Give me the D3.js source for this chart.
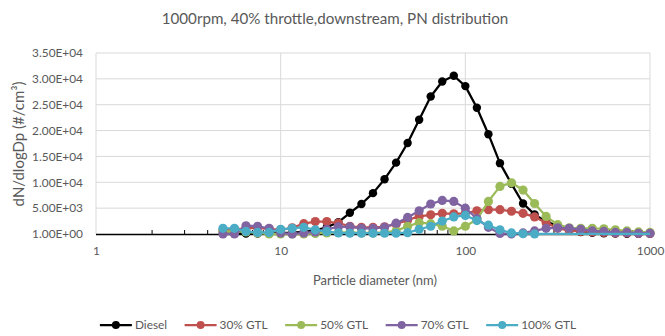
<!DOCTYPE html>
<html><head><meta charset="utf-8">
<script src="https://cdn.jsdelivr.net/npm/d3@7"></script>
<style>
body{margin:0;background:#fff}
svg{display:block}
text{font-family:Lato,"Open Sans",sans-serif;fill:#595959}
</style>
</head><body><svg id="c" width="665" height="336"></svg>
<script>
const titleText = "1000rpm, 40% throttle,downstream, PN distribution";
const xTitleText = "Particle diameter (nm)";
const yTitleText = "dN/dlogDp (#/cm³)";

const diameters = [4.87, 5.62, 6.49, 7.50, 8.66, 10.0, 11.55, 13.34, 15.40, 17.78, 20.54, 23.71, 27.38, 31.62, 36.52, 42.17, 48.70, 56.23, 64.94, 74.99, 86.60, 100.0, 115.48, 133.35, 153.99, 177.83, 205.35, 237.14, 273.84, 316.23, 365.17, 421.70, 486.97, 562.34, 649.38, 749.89, 865.96, 1000.0];

const seriesNames = ["Diesel", "30% GTL", "50% GTL", "70% GTL", "100% GTL"];
const seriesColors = ["#000000", "#C0504D", "#9BBB59", "#8064A2", "#4BACC6"];

const diesel = [50, 60, 70, 80, 100, 150, 250, 400, 700, 1300, 2300, 4100, 5800, 7900, 10600, 13800, 17600, 22100, 26600, 29500, 30600, 28600, 24400, 19300, 13700, 9700, 5900, 3800, 2400, 1600, 900, 400, 250, 150, 100, 60, 40, 30];
const gtl30 = [700, 900, 1100, 1200, 1000, 800, 1200, 2000, 2400, 2400, 2100, 1500, 1300, 1300, 1400, 1900, 2700, 3400, 3700, 4000, 3900, 4000, 4500, 4700, 4700, 4400, 4000, 3300, 2200, 1100, 700, 500, 400, 300, 200, 200, 100, 100];
const gtl50 = [500, 500, 400, 200, 0, 0, 0, 0, 100, 200, 300, 300, 200, 200, 300, 600, 1500, 2200, 2000, 1500, 600, 1500, 2800, 6300, 9200, 9900, 8500, 5900, 3400, 1800, 1200, 1100, 1100, 1000, 800, 600, 400, 300];
const gtl70 = [0, 0, 1600, 1500, 1100, 200, 0, 200, 400, 900, 1400, 1400, 1100, 1100, 1300, 2100, 3200, 4500, 5800, 6500, 6300, 5000, 3000, 1300, 100, 0, 200, 600, 1100, 1200, 1100, 900, 600, 500, 300, 300, 150, 150];
const gtl100 = [1100, 1100, 500, 300, 300, 900, 1100, 1300, 800, 450, 200, 150, 150, 150, 150, 150, 250, 900, 1500, 2500, 3300, 3600, 2600, 1700, 800, 200, 50, 20, null, null, null, null, null, null, null, null, null, null];
// the 100% GTL trace continues flat to 1000 nm without visible markers
const gtl100TailEnd = 20;

const yTickValues = [1, 5001, 10001, 15001, 20001, 25001, 30001, 35001];
const yTickLabels = ["1.00E+00", "5.00E+03", "1.00E+04", "1.50E+04", "2.00E+04", "2.50E+04", "3.00E+04", "3.50E+04"];
const xTickValues = [1, 10, 100, 1000];
const xTickLabels = ["1", "10", "100", "1000"];
const xMinorTicks = [2,3,4,5,6,7,8,9,20,30,40,50,60,70,80,90,200,300,400,500,600,700,800,900];

const allSeries = [diesel, gtl30, gtl50, gtl70, gtl100];

const svg = d3.select("#c");
const L = 96, R = 650, T = 53, B = 234;
const x = d3.scaleLog().domain([1, 1000]).range([L, R]);
const y = d3.scaleLinear().domain([1, 35001]).range([B, T]);

function fitWidth(sel, target) {
  const w = sel.node().getComputedTextLength();
  const fs = parseFloat(sel.style("font-size"));
  sel.style("font-size", (fs * target / w) + "px");
}

const probe = svg.append("text").style("font-size", "12px").text("3.50E+04");
fitWidth(probe, 51);
const tickFont = probe.style("font-size");
probe.remove();

// grid
const grid = svg.append("g");
grid.selectAll("line.h").data(yTickValues.slice(1)).join("line")
  .attr("x1", L).attr("x2", R).attr("y1", d => y(d)).attr("y2", d => y(d))
  .attr("stroke", "#d9d9d9").attr("stroke-width", 1);
grid.selectAll("line.v").data(xTickValues).join("line")
  .attr("x1", d => x(d)).attr("x2", d => x(d)).attr("y1", T).attr("y2", B)
  .attr("stroke", "#d9d9d9").attr("stroke-width", 1);

// x axis minor ticks + line
const xAxisMinor = svg.append("g").attr("transform", `translate(0,${B})`)
  .call(d3.axisBottom(x).tickValues(xMinorTicks).tickSize(-4).tickFormat(""));
xAxisMinor.select(".domain").attr("stroke", "#000").attr("stroke-width", 1.3).attr("d", `M${L},0.5H${R}`);
xAxisMinor.selectAll(".tick line").attr("stroke", "#000").attr("stroke-width", 1);

// x labels
const xAxisLab = svg.append("g").attr("transform", `translate(0,${B})`)
  .call(d3.axisBottom(x).tickValues(xTickValues).tickSize(0).tickPadding(13).tickFormat((d, i) => xTickLabels[i]));
xAxisLab.select(".domain").remove();
xAxisLab.selectAll("text").style("font-size", tickFont).style("font-family", "Lato,'Open Sans',sans-serif").attr("fill", "#595959");

// y labels
const yAxis = svg.append("g").attr("transform", `translate(${L},0)`)
  .call(d3.axisLeft(y).tickValues(yTickValues).tickSize(0).tickPadding(13).tickFormat((d, i) => yTickLabels[i]));
yAxis.select(".domain").remove();
yAxis.selectAll("text").style("font-size", tickFont).style("font-family", "Lato,'Open Sans',sans-serif").attr("fill", "#595959");

// series
const line = d3.line().x(d => x(d.d)).y(d => y(d.v));
allSeries.forEach((vals, si) => {
  const pts = diameters.map((d, i) => ({d, v: vals[i]})).filter(p => p.v != null);
  const linePts = si === 4 ? pts.concat([{d: diameters[diameters.length - 1], v: gtl100TailEnd}]) : pts;
  const g = svg.append("g");
  g.append("path").datum(linePts).attr("d", line).attr("fill", "none")
    .attr("stroke", seriesColors[si]).attr("stroke-width", 2.25).attr("stroke-linejoin", "round");
  g.selectAll("circle").data(pts).join("circle")
    .attr("cx", p => x(p.d)).attr("cy", p => y(p.v))
    .attr("r", si === 0 ? 4.2 : 4.6).attr("fill", seriesColors[si]);
});

// title
const title = svg.append("text").attr("x", 335).attr("y", 24).attr("text-anchor", "middle")
  .style("font-size", "14px").text(titleText);
fitWidth(title, 347);

// x title
const xt = svg.append("text").attr("x", 375).attr("y", 285).attr("text-anchor", "middle")
  .style("font-size", "12px").text(xTitleText);
fitWidth(xt, 124);

// y title
const yt = svg.append("text").attr("transform", "translate(24,144) rotate(-90)").attr("text-anchor", "middle")
  .style("font-size", "12px").text(yTitleText);
fitWidth(yt, 125);

// legend
const legend = svg.append("g");
let cx = 0;
seriesNames.forEach((name, i) => {
  const g = legend.append("g");
  g.append("line").attr("x1", 0).attr("x2", 32).attr("y1", 0).attr("y2", 0)
    .attr("stroke", seriesColors[i]).attr("stroke-width", 2.25);
  g.append("circle").attr("cx", 16).attr("cy", 0).attr("r", 4).attr("fill", seriesColors[i]);
  const t = g.append("text").attr("x", 35).attr("y", 0).attr("dy", "0.35em")
    .style("font-size", tickFont).text(name);
  const w = 35 + t.node().getComputedTextLength();
  g.attr("transform", `translate(${cx},0)`);
  cx += w + 17.5;
});
const totalW = cx - 17.5;
legend.attr("transform", `translate(${338 - totalW / 2},325)`);
</script>
</body></html>
